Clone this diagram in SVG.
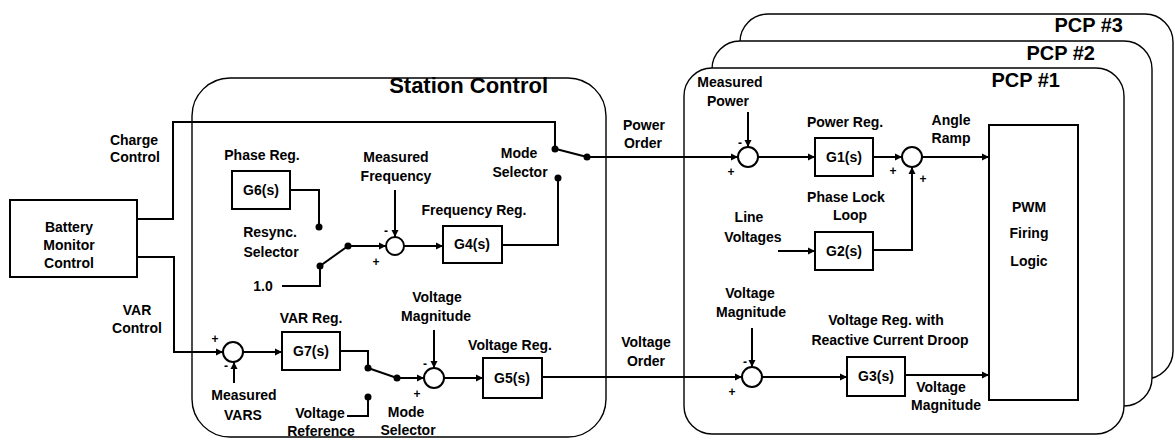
<svg xmlns="http://www.w3.org/2000/svg" width="1175" height="443" viewBox="0 0 1175 443">
<defs>
<marker id="arr" markerWidth="8" markerHeight="8" refX="7" refY="4" orient="auto" markerUnits="userSpaceOnUse"><path d="M0,0.5 L7,4 L0,7.5 z" fill="#000"/></marker>
</defs>
<style>
text { font-family: "Liberation Sans", Arial, sans-serif; font-weight: bold; font-size: 14px; fill: #000; text-anchor: middle; }
.title { font-size: 22px; text-anchor: end; }
.pcpt { font-size: 20px; text-anchor: end; }
.sign { font-size: 12px; }
.blk { fill: #fff; stroke: #000; stroke-width: 2; }
.frame { fill: #fff; stroke: #000; stroke-width: 1.4; }
.w { fill: none; stroke: #000; stroke-width: 2; }
.a { fill: none; stroke: #000; stroke-width: 2; marker-end: url(#arr); }
.dot { fill: #000; }
.sum { fill: #fff; stroke: #000; stroke-width: 2; }
</style>
<rect width="1175" height="443" fill="#fff"/>

<g id="pcp3"><rect class="frame" x="740" y="14" width="433" height="365" rx="28"/><text class="pcpt" x="1123" y="32">PCP #3</text></g>
<g id="pcp2"><rect class="frame" x="712" y="41" width="440" height="365" rx="28"/><text class="pcpt" x="1095" y="60">PCP #2</text></g>
<g id="pcp1"><rect class="frame" x="684" y="68" width="440" height="366" rx="28"/><text class="pcpt" x="1060" y="87">PCP #1</text></g>
<g id="station-control"><rect class="frame" x="192" y="78" width="414" height="359" rx="38"/><text class="title" x="548" y="93">Station Control</text></g>

<g id="connectors">
<path class="w" d="M137,219 H173 V122 H555 V149"/>
<path class="w" d="M556,149 L587,157"/>
<path class="a" d="M587,157 H738"/>
<path class="w" d="M290,190 H319 V227"/>
<path class="w" d="M282,286 H320 V266"/>
<path class="w" d="M320,266 L348,246"/>
<path class="a" d="M348,246 H386"/>
<path class="a" d="M395,190 V237"/>
<path class="a" d="M404,246 H443"/>
<path class="w" d="M502,245 H558 V178"/>
<path class="a" d="M137,257 H174 V352 H223"/>
<path class="a" d="M234,383 V362"/>
<path class="a" d="M243,352 H282"/>
<path class="w" d="M340,351 H368 V368"/>
<path class="w" d="M368,368 L397,378"/>
<path class="a" d="M397,378 H424"/>
<path class="a" d="M434,330 V368"/>
<path class="w" d="M347,416 H368 V397"/>
<path class="a" d="M444,378 H483"/>
<path class="a" d="M542,377 H742"/>
<path class="a" d="M748,112 V147"/>
<path class="a" d="M758,157 H815"/>
<path class="a" d="M873,157 H902"/>
<path class="a" d="M778,251 H815"/>
<path class="a" d="M873,250 H912 V167"/>
<path class="a" d="M922,157 H989"/>
<path class="a" d="M752,328 V367"/>
<path class="a" d="M762,377 H847"/>
<path class="a" d="M905,375 H989"/>
<circle class="dot" cx="555" cy="149" r="3.5"/>
<circle class="dot" cx="558" cy="178" r="3.5"/>
<circle class="dot" cx="587" cy="157" r="3.5"/>
<circle class="dot" cx="319" cy="227" r="3.5"/>
<circle class="dot" cx="320" cy="266" r="3.5"/>
<circle class="dot" cx="348" cy="246" r="3.5"/>
<circle class="dot" cx="368" cy="368" r="3.5"/>
<circle class="dot" cx="397" cy="378" r="3.5"/>
<circle class="dot" cx="368" cy="397" r="3.5"/>
</g>

<g id="battery-monitor"><rect class="blk" x="10" y="200" width="127" height="77"/><text x="69" y="232">Battery</text><text x="69" y="250">Monitor</text><text x="69" y="268">Control</text></g>
<g id="charge-control-label"><text x="134" y="145">Charge</text><text x="135" y="162">Control</text></g>
<g id="var-control-label"><text x="137" y="315">VAR</text><text x="137" y="333">Control</text></g>

<g id="g6"><text x="262" y="160">Phase Reg.</text><rect class="blk" x="232" y="171" width="58" height="38"/><text x="261" y="195">G6(s)</text></g>
<g id="resync-selector"><text x="270" y="237">Resync.</text><text x="271" y="257">Selector</text></g>
<g id="const-1"><text x="263" y="291">1.0</text></g>
<g id="sum-freq"><text x="396" y="162">Measured</text><text x="396" y="181">Frequency</text><circle class="sum" cx="395" cy="246" r="9"/><text class="sign" x="386" y="235">-</text><text class="sign" x="376" y="266">+</text></g>
<g id="g4"><text x="474" y="215">Frequency Reg.</text><rect class="blk" x="443" y="226" width="59" height="37"/><text x="472" y="249">G4(s)</text></g>
<g id="mode-selector-1"><text x="519" y="158">Mode</text><text x="520" y="177">Selector</text></g>
<g id="power-order-label"><text x="644" y="130">Power</text><text x="643" y="148">Order</text></g>

<g id="sum-var"><circle class="sum" cx="233" cy="352" r="10"/><text class="sign" x="215" y="343">+</text><text class="sign" x="226" y="370">-</text><text x="244" y="400">Measured</text><text x="243" y="420">VARS</text></g>
<g id="g7"><text x="311" y="323">VAR Reg.</text><rect class="blk" x="282" y="332" width="58" height="38"/><text x="311" y="356">G7(s)</text></g>
<g id="voltage-reference"><text x="320" y="418">Voltage</text><text x="321" y="436">Reference</text></g>
<g id="mode-selector-2"><text x="406" y="417">Mode</text><text x="408" y="435">Selector</text></g>
<g id="sum-volt"><text x="437" y="302">Voltage</text><text x="436" y="321">Magnitude</text><circle class="sum" cx="434" cy="378" r="10"/><text class="sign" x="425" y="368">-</text><text class="sign" x="417" y="398">+</text></g>
<g id="g5"><text x="510" y="350">Voltage Reg.</text><rect class="blk" x="483" y="358" width="59" height="40"/><text x="512" y="383">G5(s)</text></g>
<g id="voltage-order-label"><text x="646" y="347">Voltage</text><text x="646" y="366">Order</text></g>

<g id="sum-power"><text x="730" y="87">Measured</text><text x="728" y="106">Power</text><circle class="sum" cx="748" cy="157" r="10"/><text class="sign" x="740" y="147">-</text><text class="sign" x="731" y="176">+</text></g>
<g id="g1"><text x="845" y="127">Power Reg.</text><rect class="blk" x="815" y="138" width="58" height="38"/><text x="844" y="162">G1(s)</text></g>
<g id="sum-angle"><circle class="sum" cx="912" cy="157" r="10"/><text class="sign" x="893" y="175">+</text><text class="sign" x="923" y="183">+</text><text x="951" y="125">Angle</text><text x="951" y="143">Ramp</text></g>
<g id="g2"><text x="846" y="202">Phase Lock</text><text x="850" y="220">Loop</text><rect class="blk" x="815" y="232" width="58" height="38"/><text x="844" y="256">G2(s)</text></g>
<g id="line-voltages"><text x="749" y="222">Line</text><text x="753" y="242">Voltages</text></g>
<g id="sum-vmag"><text x="750" y="298">Voltage</text><text x="751" y="317">Magnitude</text><circle class="sum" cx="752" cy="377" r="10"/><text class="sign" x="745" y="366">-</text><text class="sign" x="732" y="396">+</text></g>
<g id="g3"><text x="886" y="325">Voltage Reg. with</text><text x="890" y="345">Reactive Current Droop</text><rect class="blk" x="847" y="357" width="58" height="39"/><text x="876" y="381">G3(s)</text><text x="941" y="392">Voltage</text><text x="946" y="410">Magnitude</text></g>
<g id="pwm"><rect class="blk" x="989" y="125" width="89" height="275"/><text x="1029" y="212">PWM</text><text x="1029" y="238">Firing</text><text x="1029" y="266">Logic</text></g>
</svg>
